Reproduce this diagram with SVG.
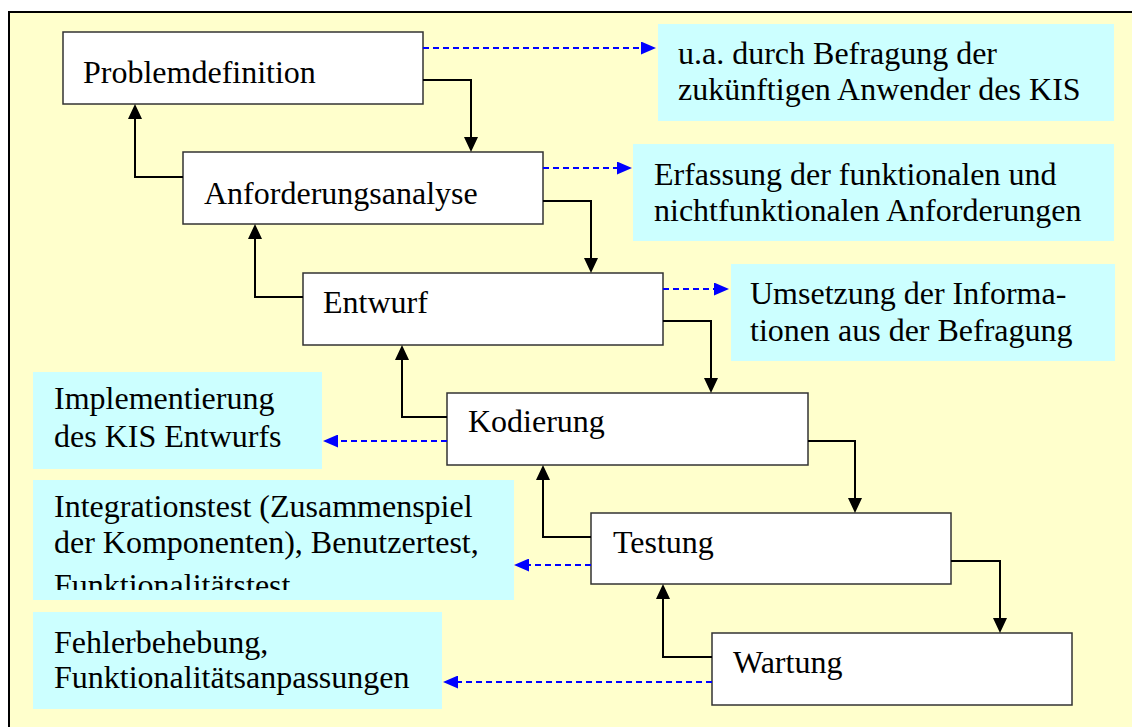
<svg xmlns="http://www.w3.org/2000/svg" width="1132" height="727" viewBox="0 0 1132 727">
  <defs>
    <!-- solid black arrowhead for the phase flow -->
    <marker id="ah" viewBox="0 0 15 14" refX="7" refY="7" markerWidth="15" markerHeight="14" markerUnits="userSpaceOnUse" orient="auto">
      <path d="M0,0 L15,7 L0,14 Z" fill="#000"/>
    </marker>
    <!-- blue arrowhead for the dashed annotation links -->
    <marker id="ahb" viewBox="0 0 15 13" refX="7" refY="6.5" markerWidth="15" markerHeight="13" markerUnits="userSpaceOnUse" orient="auto">
      <path d="M0,0 L15,6.5 L0,13 Z" fill="#00f"/>
    </marker>
    <clipPath id="clip-int">
      <rect x="33" y="480" width="481" height="110"/>
    </clipPath>
  </defs>
  <style>
    .phase rect { fill: #fff; stroke: #333; stroke-width: 1.5; }
    .note rect { fill: #ccffff; }
    text { font-family: "Liberation Serif", "Times New Roman", serif; font-size: 32px; fill: #000; }
    .flow { fill: none; stroke: #000; stroke-width: 2; marker-end: url(#ah); }
    .ref { fill: none; stroke: #00f; stroke-width: 2; stroke-dasharray: 6 4; marker-end: url(#ahb); }
  </style>

  <!-- page background with frame (left and top edges visible) -->
  <rect x="9" y="12" width="1130" height="720" fill="#ffffcc" stroke="#000" stroke-width="2"/>

  <!-- annotation boxes -->
  <g id="note-problemdefinition" class="note">
    <rect x="658" y="24" width="456" height="97"/>
    <text x="678" y="64">u.a. durch Befragung der</text>
    <text x="678" y="100">zukünftigen Anwender des KIS</text>
  </g>
  <g id="note-anforderungsanalyse" class="note">
    <rect x="633" y="144" width="481" height="97"/>
    <text x="654" y="185">Erfassung der funktionalen und</text>
    <text x="654" y="221">nichtfunktionalen Anforderungen</text>
  </g>
  <g id="note-entwurf" class="note">
    <rect x="731" y="264" width="384" height="97"/>
    <text x="750" y="304">Umsetzung der Informa-</text>
    <text x="750" y="341">tionen aus der Befragung</text>
  </g>
  <g id="note-kodierung" class="note">
    <rect x="33" y="372" width="289" height="97"/>
    <text x="54" y="409">Implementierung</text>
    <text x="54" y="447">des KIS Entwurfs</text>
  </g>
  <g id="note-testung" class="note">
    <rect x="33" y="480" width="481" height="120"/>
    <g clip-path="url(#clip-int)">
      <text x="54" y="517">Integrationstest (Zusammenspiel</text>
      <text x="54" y="553">der Komponenten), Benutzertest,</text>
      <text x="54" y="596">Funktionalitätstest</text>
    </g>
  </g>
  <g id="note-wartung" class="note">
    <rect x="33" y="612" width="409" height="97"/>
    <text x="54" y="653">Fehlerbehebung,</text>
    <text x="54" y="688">Funktionalitätsanpassungen</text>
  </g>

  <!-- phase boxes -->
  <g id="problemdefinition" class="phase">
    <rect x="63" y="32" width="360" height="72"/>
    <text x="83" y="83">Problemdefinition</text>
  </g>
  <g id="anforderungsanalyse" class="phase">
    <rect x="183" y="152" width="360" height="72"/>
    <text x="204" y="204">Anforderungsanalyse</text>
  </g>
  <g id="entwurf" class="phase">
    <rect x="303" y="273" width="360" height="72"/>
    <text x="323" y="313">Entwurf</text>
  </g>
  <g id="kodierung" class="phase">
    <rect x="447" y="393" width="361" height="72"/>
    <text x="468" y="432">Kodierung</text>
  </g>
  <g id="testung" class="phase">
    <rect x="591" y="513" width="360" height="71"/>
    <text x="613" y="553">Testung</text>
  </g>
  <g id="wartung" class="phase">
    <rect x="712" y="633" width="360" height="72"/>
    <text x="733" y="673">Wartung</text>
  </g>

  <!-- connectors -->
  <g id="connectors">
    <!-- forward flow -->
    <path class="flow" d="M423,80 H471 V144"/>
    <path class="flow" d="M543,201 H591 V265"/>
    <path class="flow" d="M663,321 H711 V385"/>
    <path class="flow" d="M808,441 H855 V505"/>
    <path class="flow" d="M951,561 H1000 V625"/>
    <!-- feedback to the previous phase -->
    <path class="flow" d="M183,177 H135 V112"/>
    <path class="flow" d="M303,297 H255 V232"/>
    <path class="flow" d="M447,417 H402 V353"/>
    <path class="flow" d="M591,537 H543 V473"/>
    <path class="flow" d="M712,657 H663 V592"/>
    <!-- annotation links -->
    <path class="ref" d="M423,48 H648"/>
    <path class="ref" d="M543,168 H624"/>
    <path class="ref" d="M663,289 H721"/>
    <path class="ref" d="M447,441 H331"/>
    <path class="ref" d="M591,565 H522"/>
    <path class="ref" d="M712,682 H451"/>
  </g>
</svg>
